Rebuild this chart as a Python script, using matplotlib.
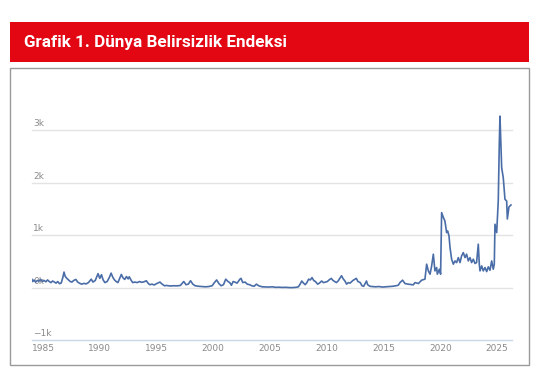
import matplotlib
matplotlib.use("Agg")
import matplotlib.pyplot as plt
from matplotlib.patches import Rectangle
import matplotlib.transforms as mtransforms

W, H = 537, 374
DPI = 100

title = "Grafik 1. Dünya Belirsizlik Endeksi"

years = [
    1984.0, 1984.1, 1984.2, 1984.35, 1984.5, 1984.65, 1984.8, 1984.95, 1985.1, 1985.25,
    1985.4, 1985.55, 1985.7, 1985.85, 1986.0, 1986.15, 1986.3, 1986.45, 1986.6, 1986.75,
    1986.85, 1986.95, 1987.1, 1987.25, 1987.4, 1987.55, 1987.7, 1987.9, 1988.05, 1988.2,
    1988.4, 1988.6, 1988.8, 1989.0, 1989.25, 1989.4, 1989.6, 1989.85, 1990.0, 1990.15,
    1990.3, 1990.45, 1990.65, 1990.85, 1991.0, 1991.15, 1991.3, 1991.45, 1991.6, 1991.75,
    1991.9, 1992.05, 1992.2, 1992.35, 1992.5, 1992.6, 1992.75, 1992.9, 1993.1, 1993.3,
    1993.5, 1993.7, 1993.9, 1994.1, 1994.25, 1994.4, 1994.6, 1994.8, 1995.0, 1995.3,
    1995.5, 1995.7, 1995.9, 1996.2, 1996.5, 1996.8, 1997.1, 1997.4, 1997.6, 1997.8,
    1998.0, 1998.2, 1998.4, 1998.7, 1999.0, 1999.3, 1999.6, 1999.9, 2000.1, 2000.3,
    2000.5, 2000.7, 2000.9, 2001.1, 2001.3, 2001.45, 2001.6, 2001.75, 2001.9, 2002.1,
    2002.35, 2002.45, 2002.6, 2002.8, 2003.0, 2003.2, 2003.4, 2003.6, 2003.8, 2004.0,
    2004.3, 2004.6, 2004.9, 2005.2, 2005.5, 2005.8, 2006.1, 2006.4, 2006.7, 2007.0,
    2007.3, 2007.5, 2007.65, 2007.8, 2007.95, 2008.1, 2008.25, 2008.4, 2008.55, 2008.7,
    2008.85, 2009.0, 2009.2, 2009.35, 2009.55, 2009.7, 2009.9, 2010.05, 2010.2, 2010.4,
    2010.55, 2010.7, 2010.85, 2011.0, 2011.3, 2011.45, 2011.6, 2011.75, 2011.9, 2012.05,
    2012.3, 2012.6, 2012.75, 2012.95, 2013.1, 2013.25, 2013.5, 2013.6, 2013.8, 2014.0,
    2014.3, 2014.6, 2014.9, 2015.2, 2015.5, 2015.8, 2016.1, 2016.3, 2016.45, 2016.68,
    2016.89, 2017.18, 2017.62, 2017.77, 2018.07, 2018.36, 2018.65, 2018.8, 2018.95, 2019.1,
    2019.24, 2019.39, 2019.53, 2019.68, 2019.74, 2019.92, 2020.03, 2020.12, 2020.27, 2020.41,
    2020.56, 2020.65, 2020.77, 2020.86, 2021.0, 2021.15, 2021.3, 2021.44, 2021.59, 2021.74,
    2021.88, 2022.03, 2022.18, 2022.32, 2022.47, 2022.62, 2022.76, 2022.91, 2023.06, 2023.2,
    2023.35, 2023.44, 2023.5, 2023.65, 2023.79, 2023.94, 2024.09, 2024.23, 2024.38, 2024.53,
    2024.67, 2024.76, 2024.82, 2024.97, 2025.11, 2025.2, 2025.26, 2025.41, 2025.55, 2025.7,
    2025.85, 2025.91, 2026.05, 2026.23,
]

values = [
    170, 120, 150, 110, 140, 130, 160, 120, 140, 115,
    150, 120, 100, 130, 110, 90, 120, 80, 90, 200,
    300, 220, 180, 150, 120, 110, 140, 160, 110, 90,
    70, 85, 75, 100, 165, 110, 140, 270, 180, 250,
    150, 100, 120, 200, 280, 200, 150, 120, 100, 180,
    255, 190, 160, 215, 170, 210, 150, 100, 110, 100,
    120, 105, 115, 135, 90, 60, 70, 55, 80, 110,
    70, 40, 45, 35, 40, 38, 45, 120, 60, 70,
    135, 70, 40, 30, 25, 20, 25, 40, 100, 150,
    80, 40, 60, 165, 120, 100, 50, 120, 110, 90,
    165, 180, 100, 110, 70, 60, 40, 30, 70, 40,
    20, 18, 15, 20, 10, 12, 8, 10, 5, 5,
    10, 20, 70, 130, 90, 60, 100, 165, 150, 195,
    140, 120, 70, 90, 130, 100, 110, 120, 150, 180,
    140, 120, 100, 130, 230, 170, 130, 70, 100, 90,
    140, 180, 120, 100, 40, 30, 130, 60, 30, 25,
    20, 25, 15, 20, 25, 30, 40, 50, 100, 146,
    82, 70, 57, 100, 82, 146, 165, 450, 322, 260,
    417, 640, 322, 386, 260, 354, 260, 1430, 1340, 1270,
    1050, 1080, 987, 765, 545, 450, 512, 480, 575, 480,
    607, 670, 575, 640, 512, 575, 480, 545, 463, 480,
    830, 450, 322, 417, 322, 386, 309, 399, 335, 512,
    354, 450, 1209, 1050, 1650, 2732, 3264, 2283, 2093, 1683,
    1650, 1309, 1537, 1575,
]

y_ticks = [-1000, 0, 1000, 2000, 3000]
y_labels = ["\u22121k", "0k", "1k", "2k", "3k"]
x_ticks = [1985, 1990, 1995, 2000, 2005, 2010, 2015, 2020, 2025]

fig = plt.figure(figsize=(W / DPI, H / DPI), dpi=DPI)

def px_rect(x0, y0, x1, y1):
    return (x0 / W, 1 - y1 / H, (x1 - x0) / W, (y1 - y0) / H)

# red banner
bx, by, bw, bh = px_rect(10, 22, 529, 62)
fig.patches.append(Rectangle((bx, by), bw, bh, transform=fig.transFigure,
                             facecolor="#e30613", edgecolor="none", zorder=-2))
fig.text(24 / W, 1 - 42 / H, title, color="white", fontsize=12.3, fontweight="bold",
         family=["Roboto", "DejaVu Sans"], va="center", ha="left", zorder=5)

# chart box
cx, cy, cw, ch = px_rect(10, 68, 529, 365)
fig.patches.append(Rectangle((cx, cy), cw, ch, transform=fig.transFigure,
                             facecolor="white", edgecolor="#9a9a9a", linewidth=1.0, zorder=-2))

ax = fig.add_axes(px_rect(32, 80, 512, 341))
ax.set_zorder(2)
ax.set_facecolor("none")
ax.set_xlim(1984.03, 2026.32)
ax.set_ylim(-1010, 3950)
for s in ax.spines.values():
    s.set_visible(False)
ax.set_yticks(y_ticks)
ax.set_xticks(x_ticks)
ax.set_yticklabels([])
ax.set_xticklabels([str(t) for t in x_ticks])
ax.tick_params(axis="both", length=0)
ax.tick_params(axis="x", labelsize=6.5, labelcolor="#8a8a8a", pad=2)
ax.grid(axis="y", color="#e3e3e3", linewidth=1.0)
ax.grid(axis="x", visible=False)
ax.set_axisbelow(True)
for gl in ax.get_ygridlines():
    gl.set_clip_on(False)
ax.get_ygridlines()[0].set_color("#c9d6e6")

trans = mtransforms.blended_transform_factory(ax.transAxes, ax.transData)
for v, lab in zip(y_ticks, y_labels):
    ax.text(0.003, v + 40, lab, transform=trans, fontsize=6.5, color="#8a8a8a",
            ha="left", va="bottom")

ax.plot(years, values, color="#4a6da8", linewidth=1.2, zorder=3, solid_joinstyle="round")

fig.savefig("out.png", dpi=DPI)
